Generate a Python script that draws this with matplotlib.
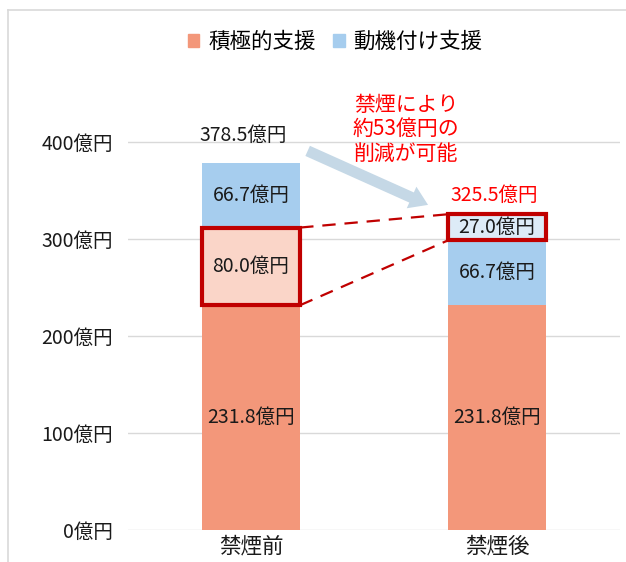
import matplotlib
matplotlib.use("Agg")
import matplotlib.pyplot as plt
from matplotlib.patches import FancyArrowPatch, Rectangle
from matplotlib.lines import Line2D

plt.rcParams['font.family'] = ['Noto Sans CJK JP', 'DejaVu Sans']

categories = ['禁煙前', '禁煙後']
active = [231.8, 231.8]          # 積極的支援
active_reducible = [80.0, 0.0]   # 積極的支援（削減対象）
motivation = [66.7, 66.7]        # 動機付け支援
motivation_new = [0.0, 27.0]     # 動機付け支援（移行分）
totals = [378.5, 325.5]
yticks = [0, 100, 200, 300, 400]
legend_labels = ['積極的支援', '動機付け支援']
note = '禁煙により\n約53億円の\n削減が可能'

c_active = '#F3977A'
c_active_light = '#FAD5C8'
c_mot = '#A6CDEE'
c_mot_light = '#DDEBF7'
c_red = '#C00000'
c_text = '#1A1A1A'
fs = 14

fig = plt.figure(figsize=(6.26, 5.62), dpi=100)
# chart frame lines (top/left)
fig.add_artist(Line2D([8/626, 8/626], [0, 1 - 10/562], transform=fig.transFigure, color='#D9D9D9', lw=1.2))
fig.add_artist(Line2D([8/626, 1], [1 - 10/562, 1 - 10/562], transform=fig.transFigure, color='#D9D9D9', lw=1.2))

ax = fig.add_axes([128/626, 32/562, 492/626, 436.5/562])
x = [0, 1]
w = 0.4

layers = [
    (active, c_active, None),
    (active_reducible, c_active_light, c_red),
    (motivation, c_mot, None),
    (motivation_new, c_mot_light, c_red),
]
bottoms = [0.0, 0.0]
tops = {}
for idx, (vals, col, edge) in enumerate(layers):
    for i in range(2):
        v = vals[i]
        if v <= 0:
            continue
        if edge:
            ax.bar(x[i], v, w, bottom=bottoms[i], color=col, edgecolor=edge, linewidth=3, zorder=4)
        else:
            ax.bar(x[i], v, w, bottom=bottoms[i], color=col, edgecolor='none', zorder=3)
        ax.text(x[i], bottoms[i] + v / 2, f'{v:.1f}億円', ha='center', va='center',
                fontsize=fs, color=c_text, zorder=6)
        tops[(idx, i)] = (bottoms[i], bottoms[i] + v)
    bottoms = [bottoms[i] + vals[i] for i in range(2)]

# dashed connectors
b1, t1 = tops[(1, 0)]
b2, t2 = tops[(3, 1)]
ax.plot([x[0] + w/2, x[1] - w/2], [t1, t2], ls=(0, (6, 4)), color=c_red, lw=1.6, zorder=5)
ax.plot([x[0] + w/2, x[1] - w/2], [b1, b2], ls=(0, (6, 4)), color=c_red, lw=1.6, zorder=5)

# totals
ax.text(x[0] - 0.03, totals[0] + 28, f'{totals[0]:.1f}億円', ha='center', va='center', fontsize=fs, color=c_text, zorder=6)
ax.text(x[1] - 0.01, totals[1] + 19, f'{totals[1]:.1f}億円', ha='center', va='center', fontsize=fs, color='#FF0000', zorder=6)

# arrow
arr = FancyArrowPatch((0.22, 392), (0.73, 334), arrowstyle='simple,head_width=1.7,head_length=1.3,tail_width=0.8',
                      mutation_scale=10, color='#C5D8E6', lw=0, zorder=2)
ax.add_patch(arr)

ax.text(0.63, 413, note, ha='center', va='center', fontsize=15, color='#FF0000',
        linespacing=1.15, zorder=6)

ax.set_xlim(-0.5, 1.5)
ax.set_ylim(0, 450)
ax.set_yticks(yticks)
ax.set_yticklabels([f'{t}億円' for t in yticks])
ax.set_xticks(x)
ax.set_xticklabels(categories)
for t in yticks:
    ax.axhline(t, color='#D9D9D9', lw=1, zorder=1)
for s in ax.spines.values():
    s.set_visible(False)
ax.tick_params(axis='both', length=0, labelsize=fs, colors=c_text)
ax.tick_params(axis='x', labelsize=15.5, pad=4)
ax.tick_params(axis='y', pad=11)

handles = [Rectangle((0, 0), 1, 1, color=c_active), Rectangle((0, 0), 1, 1, color=c_mot)]
fig.legend(handles, legend_labels, loc='center', bbox_to_anchor=(0.535, 1 - 42/562), ncol=2,
           frameon=False, fontsize=15.5, handlelength=0.55, handleheight=0.55, handletextpad=0.4,
           columnspacing=0.8)

fig.savefig('out.png', dpi=100)
